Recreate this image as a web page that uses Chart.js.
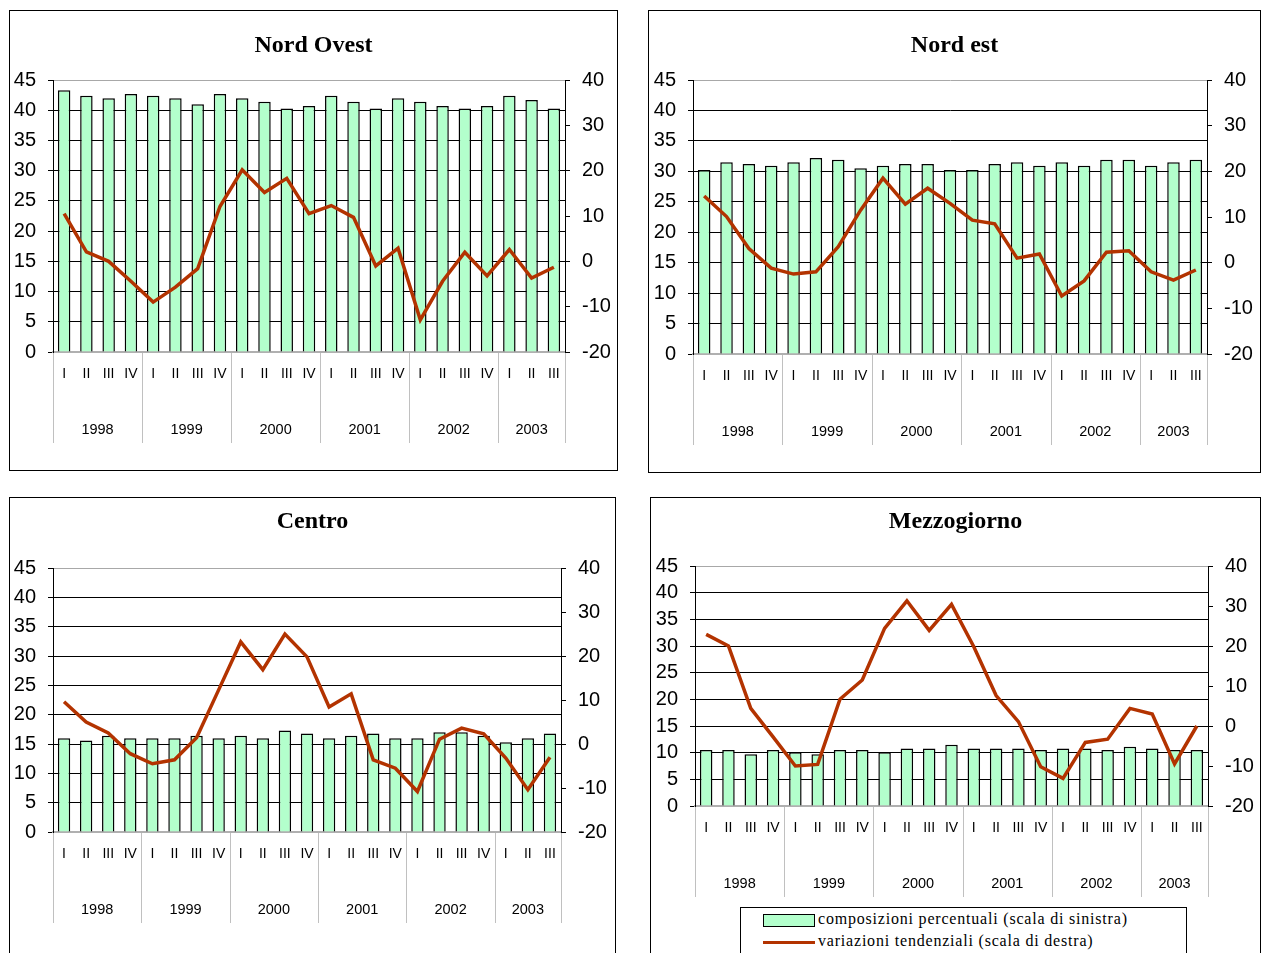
<!DOCTYPE html>
<html>
<head>
<meta charset="utf-8">
<script src="https://cdn.jsdelivr.net/npm/chart.js@4.4.1/dist/chart.umd.min.js"></script>
<style>
  body { margin: 0; width: 1262px; height: 953px; overflow: hidden; background: #fff; position: relative; }
  .frame { position: absolute; border: 1px solid #000; box-sizing: border-box; }
  canvas { position: absolute; }
  #legend { position: absolute; left: 740px; top: 907px; width: 447px; height: 60px; border: 1px solid #000;
            box-sizing: border-box; background: #fff; font-family: "Liberation Serif", "Times New Roman", serif;
            font-size: 16px; letter-spacing: 0.8px; color: #000; }
  .row { position: absolute; left: 22px; height: 20px; line-height: 20px; white-space: nowrap; }
  .swatch { display: inline-block; width: 52px; height: 13px; vertical-align: middle; margin-right: 3px; box-sizing: border-box; }
</style>
</head>
<body>
<div id="legend">
  <div class="row" style="top:1px"><span class="swatch" style="background:#b3ffcc;border:1.5px solid #000"></span>composizioni percentuali (scala di sinistra)</div>
  <div class="row" style="top:23px"><span class="swatch" style="height:3px;background:#b33300"></span>variazioni tendenziali (scala di destra)</div>
</div>
<script>
const quarterLabels = ['I','II','III','IV','I','II','III','IV','I','II','III','IV',
                       'I','II','III','IV','I','II','III','IV','I','II','III'];
const years = ['1998','1999','2000','2001','2002','2003'];
const quartersPerYear = [4, 4, 4, 4, 4, 3];

const leftTicks = { min: 0, max: 45, step: 5 };
const rightTicks = { min: -20, max: 40, step: 10 };

const nordOvestQuota = [43.3, 42.4, 42.0, 42.7, 42.4, 42.0, 41.0, 42.7, 42.0, 41.4, 40.3, 40.7,
                        42.4, 41.4, 40.3, 42.0, 41.4, 40.7, 40.3, 40.7, 42.4, 41.7, 40.3];
const nordOvestVar = [10.5, 2.1, 0.0, -4.4, -9.0, -5.7, -1.6, 12.1, 20.2, 15.2, 18.3, 10.5,
                      12.3, 9.7, -1.0, 2.9, -12.9, -4.4, 2.0, -3.2, 2.6, -3.7, -1.3];

const nordEstQuota = [30.2, 31.5, 31.2, 30.9, 31.5, 32.2, 31.9, 30.5, 30.9, 31.2, 31.2, 30.2,
                      30.2, 31.2, 31.5, 30.9, 31.5, 30.9, 31.9, 31.9, 30.9, 31.5, 31.9];
const nordEstVar = [14.6, 10.1, 3.1, -1.2, -2.5, -2.0, 3.5, 11.5, 18.5, 12.8, 16.3, 13.0,
                    9.3, 8.5, 1.0, 1.9, -7.3, -4.0, 2.3, 2.6, -2.0, -3.8, -1.6];

const centroQuota = [16.0, 15.6, 16.4, 16.0, 16.0, 16.0, 16.4, 16.0, 16.4, 16.0, 17.3, 16.8,
                     16.0, 16.4, 16.8, 16.0, 16.0, 17.0, 17.0, 16.4, 15.3, 16.0, 16.8];
const centroVar = [9.6, 5.0, 2.5, -2.2, -4.5, -3.6, 1.4, 12.3, 23.2, 16.9, 25.0, 19.8,
                   8.4, 11.4, -3.6, -5.5, -10.8, 1.1, 3.6, 2.3, -3.2, -10.4, -3.0];

const mezzogiornoQuota = [10.5, 10.5, 9.7, 10.5, 10.1, 9.7, 10.5, 10.5, 10.1, 10.8, 10.8, 11.5,
                          10.8, 10.8, 10.8, 10.5, 10.8, 10.8, 10.5, 11.1, 10.8, 10.5, 10.5];
const mezzogiornoVar = [22.9, 20.0, 4.4, -2.7, -10.0, -9.6, 6.7, 11.5, 24.4, 31.3, 23.9, 30.4,
                        19.8, 7.6, 1.1, -10.2, -13.1, -4.1, -3.3, 4.4, 3.0, -9.5, 0.0];

const BAR_FILL = '#b3ffcc';
const LINE_COLOR = '#b33300';
const SANS = '"Liberation Sans", Arial, sans-serif';

// year groups under the quarter labels, with the grey separators
const yearRowPlugin = {
  id: 'yearRow',
  afterDraw(chart) {
    const x = chart.scales.x;
    const ctx = chart.ctx;
    const step = (x.right - x.left) / quarterLabels.length;
    const top = chart.chartArea.bottom;
    ctx.save();
    ctx.strokeStyle = '#c0c0c0';
    ctx.lineWidth = 1;
    ctx.font = '14.5px ' + SANS;
    ctx.fillStyle = '#000';
    ctx.textAlign = 'center';
    ctx.textBaseline = 'middle';
    const edges = [0];
    let start = 0;
    years.forEach((y, i) => {
      const end = start + quartersPerYear[i];
      ctx.fillText(y, x.left + (start + end) / 2 * step, top + 78);
      edges.push(end);
      start = end;
    });
    edges.forEach(e => {
      const px = Math.round(x.left + e * step) + 0.5;
      ctx.beginPath();
      ctx.moveTo(px, top + 1);
      ctx.lineTo(px, top + 91);
      ctx.stroke();
    });
    ctx.restore();
  }
};

function makePanel(title, quota, variazione, box, plot, titleY) {
  const frame = document.createElement('div');
  frame.className = 'frame';
  Object.assign(frame.style, { left: box.x + 'px', top: box.y + 'px', width: box.w + 'px', height: box.h + 'px' });
  document.body.appendChild(frame);

  const canvas = document.createElement('canvas');
  canvas.width = box.w;
  canvas.height = box.h;
  Object.assign(canvas.style, { left: box.x + 'px', top: box.y + 'px', width: box.w + 'px', height: box.h + 'px' });
  document.body.insertBefore(canvas, document.getElementById('legend'));

  const titleSize = 24;
  const titleH = titleSize * 1.2;
  const padTop = titleY - box.y - titleH / 2 + 2;
  const padBottom = plot.t - box.y - padTop - titleH;

  return new Chart(canvas, {
    data: {
      labels: quarterLabels,
      datasets: [
        {
          type: 'line',
          label: 'variazioni tendenziali (scala di destra)',
          data: variazione,
          yAxisID: 'y1',
          borderColor: LINE_COLOR,
          borderWidth: 3.5,
          pointRadius: 0,
          tension: 0,
          order: 0
        },
        {
          type: 'bar',
          label: 'composizioni percentuali (scala di sinistra)',
          data: quota,
          yAxisID: 'y',
          backgroundColor: BAR_FILL,
          borderColor: '#000',
          borderWidth: 1.5,
          barPercentage: 0.56,
          categoryPercentage: 1,
          order: 1
        }
      ]
    },
    options: {
      responsive: false,
      animation: false,
      layout: { padding: 0 },
      plugins: {
        legend: { display: false },
        tooltip: { enabled: false },
        title: {
          display: true,
          text: title,
          color: '#000',
          font: { family: '"Liberation Serif", "Times New Roman", serif', size: titleSize, weight: 'bold', lineHeight: 1.2 },
          padding: { top: padTop, bottom: padBottom }
        }
      },
      scales: {
        x: {
          type: 'category',
          offset: true,
          grid: { display: false },
          border: { display: true, color: '#b0b0b0', width: 2 },
          ticks: { color: '#000', font: { family: SANS, size: 14 }, padding: 6, autoSkip: false, maxRotation: 0 },
          afterFit: s => { s.height = box.y + box.h - plot.b; }
        },
        y: {
          position: 'left',
          min: leftTicks.min,
          max: leftTicks.max,
          ticks: { stepSize: leftTicks.step, autoSkip: false, color: '#000', font: { family: SANS, size: 20 }, padding: 12 },
          grid: {
            color: c => (c.tick && (c.tick.value === leftTicks.max || c.tick.value === leftTicks.min)) ? '#a8a8a8' : '#000',
            tickColor: '#000',
            tickLength: 5,
            lineWidth: 1
          },
          border: { display: true, color: '#000', width: 1 },
          afterFit: s => { s.width = plot.l - box.x; }
        },
        y1: {
          position: 'right',
          min: rightTicks.min,
          max: rightTicks.max,
          ticks: { stepSize: rightTicks.step, autoSkip: false, color: '#000', font: { family: SANS, size: 20 }, padding: 12 },
          grid: { drawOnChartArea: false, tickColor: '#000', tickLength: 5 },
          border: { display: true, color: '#000', width: 1 },
          afterFit: s => { s.width = box.x + box.w - plot.r; }
        }
      }
    },
    plugins: [yearRowPlugin]
  });
}

makePanel('Nord Ovest', nordOvestQuota, nordOvestVar,
  { x: 9, y: 10, w: 609, h: 461 }, { l: 53, t: 80, r: 565, b: 352 }, 44);
makePanel('Nord est', nordEstQuota, nordEstVar,
  { x: 648, y: 10, w: 613, h: 463 }, { l: 693, t: 80, r: 1207, b: 354 }, 44);
makePanel('Centro', centroQuota, centroVar,
  { x: 9, y: 497, w: 607, h: 470 }, { l: 53, t: 568, r: 561, b: 832 }, 520);
makePanel('Mezzogiorno', mezzogiornoQuota, mezzogiornoVar,
  { x: 650, y: 497, w: 611, h: 470 }, { l: 695, t: 566, r: 1208, b: 806 }, 520);
</script>
</body>
</html>
